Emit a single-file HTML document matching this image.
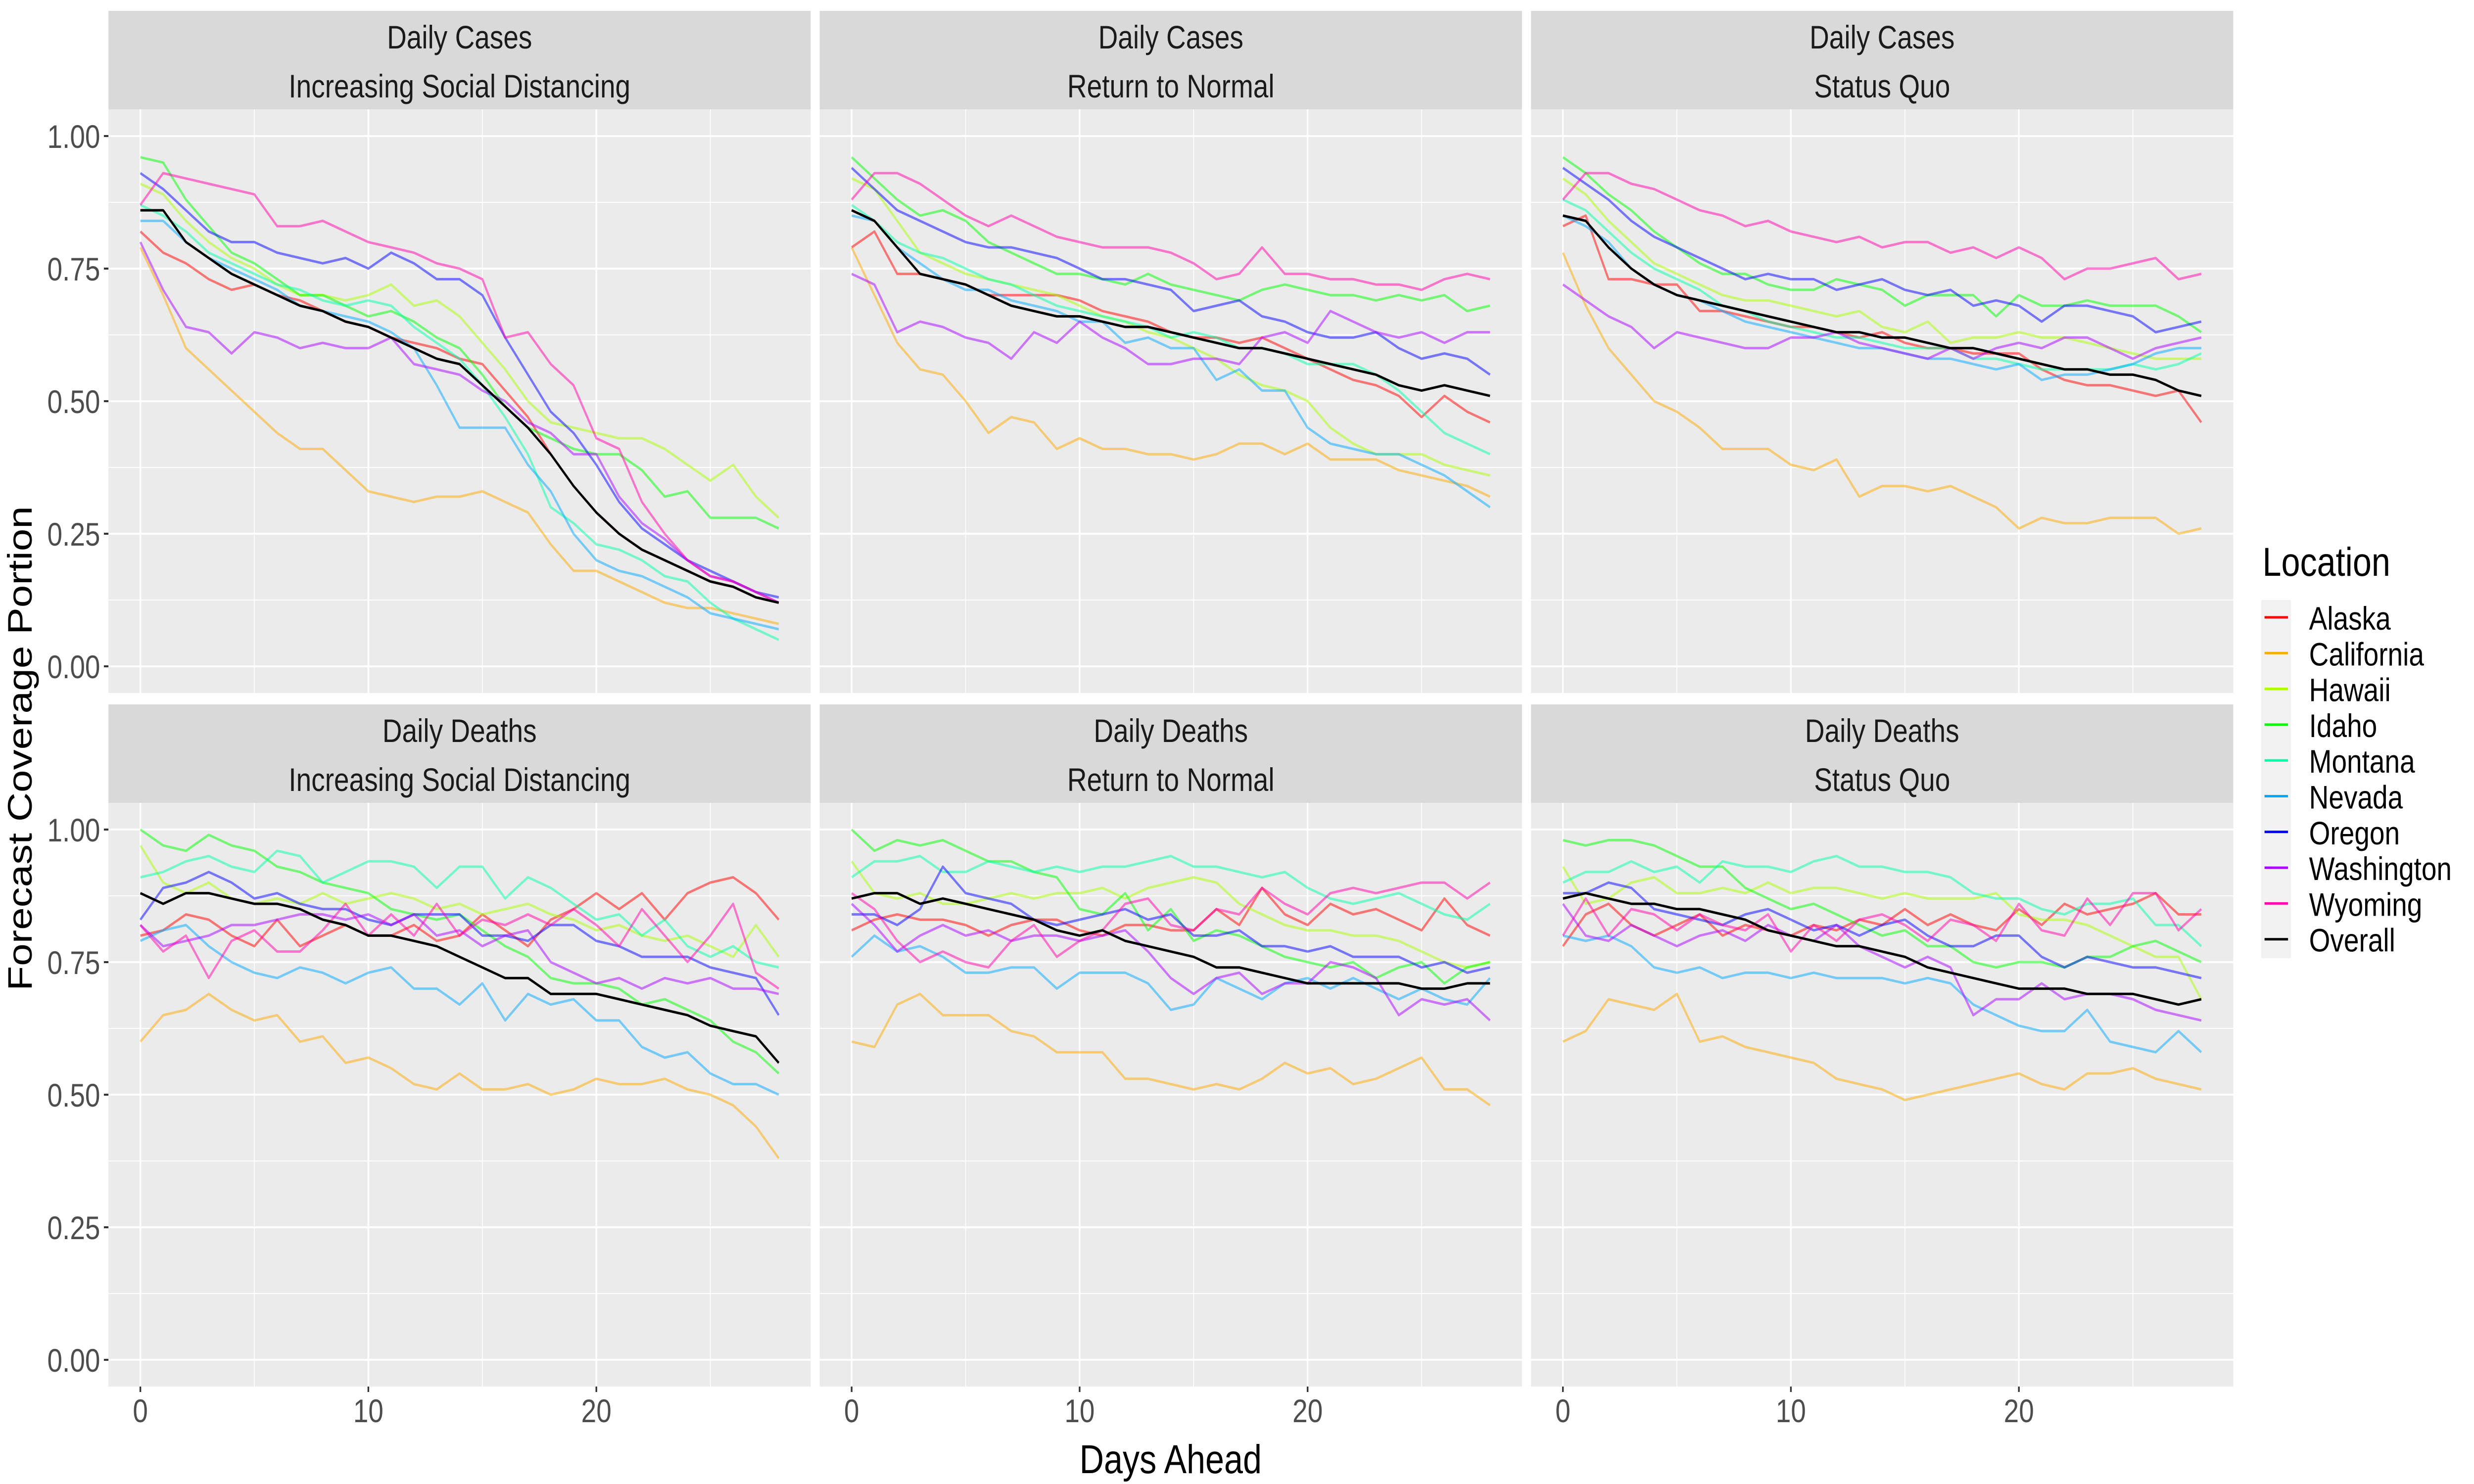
<!DOCTYPE html>
<html><head><meta charset="utf-8"><style>
html,body{margin:0;padding:0;background:#fff;width:100%;height:100%;overflow:hidden;}
svg{display:block;font-family:"Liberation Sans",sans-serif;width:100vw;height:100vh;}
</style></head><body>
<svg id="chart" xmlns="http://www.w3.org/2000/svg" viewBox="0 0 6000 3000" preserveAspectRatio="none">
<rect width="6000" height="3000" fill="#fff"/>
<g id="panels"></g>
<text x="0" y="0" transform="translate(77,1513) rotate(-90)" text-anchor="middle" font-size="82" fill="#000">Forecast Coverage Portion</text>
<text x="2839" y="2978" text-anchor="middle" font-size="82" fill="#000">Days Ahead</text>
<g id="legend">
<text x="5487" y="1164" font-size="82" fill="#000">Location</text>
<rect x="5484" y="1213" width="72" height="724" fill="#F2F2F2"/>
</g>
</svg>
<script>
const days = [0,1,2,3,4,5,6,7,8,9,10,11,12,13,14,15,16,17,18,19,20,21,22,23,24,25,26,27,28];
const locations = ["Alaska","California","Hawaii","Idaho","Montana","Nevada","Oregon","Washington","Wyoming","Overall"];
const colors = ["#FF0000","#FFAA00","#AAFF00","#00FF00","#00FFAA","#00AAFF","#0000FF","#AA00FF","#FF00AA","#000000"];
const yTicks = [0,0.25,0.5,0.75,1];
const yTickLabels = ["0.00","0.25","0.50","0.75","1.00"];
const xTicks = [0,10,20];
const xTickLabels = ["0","10","20"];
const stripTop = ["Daily Cases","Daily Cases","Daily Cases","Daily Deaths","Daily Deaths","Daily Deaths"];
const stripBottom = ["Increasing Social Distancing","Return to Normal","Status Quo","Increasing Social Distancing","Return to Normal","Status Quo"];

const casesISD = [
[0.82,0.78,0.76,0.73,0.71,0.72,0.70,0.69,0.67,0.65,0.64,0.62,0.61,0.60,0.58,0.57,0.52,0.47,0.40,0.34,0.29,0.25,0.22,0.20,0.18,0.16,0.15,0.13,0.12],
[0.79,0.70,0.60,0.56,0.52,0.48,0.44,0.41,0.41,0.37,0.33,0.32,0.31,0.32,0.32,0.33,0.31,0.29,0.23,0.18,0.18,0.16,0.14,0.12,0.11,0.11,0.10,0.09,0.08],
[0.91,0.89,0.84,0.80,0.77,0.75,0.72,0.70,0.70,0.69,0.70,0.72,0.68,0.69,0.66,0.61,0.56,0.50,0.46,0.45,0.44,0.43,0.43,0.41,0.38,0.35,0.38,0.32,0.28],
[0.96,0.95,0.88,0.83,0.78,0.76,0.73,0.70,0.70,0.68,0.66,0.67,0.65,0.62,0.60,0.55,0.49,0.45,0.43,0.41,0.40,0.40,0.37,0.32,0.33,0.28,0.28,0.28,0.26],
[0.87,0.85,0.82,0.78,0.76,0.74,0.72,0.71,0.69,0.68,0.69,0.68,0.64,0.61,0.58,0.53,0.47,0.40,0.30,0.27,0.23,0.22,0.20,0.17,0.16,0.12,0.09,0.07,0.05],
[0.84,0.84,0.80,0.77,0.75,0.73,0.71,0.68,0.67,0.66,0.65,0.63,0.60,0.53,0.45,0.45,0.45,0.38,0.33,0.25,0.20,0.18,0.17,0.15,0.13,0.10,0.09,0.08,0.07],
[0.93,0.90,0.86,0.82,0.80,0.80,0.78,0.77,0.76,0.77,0.75,0.78,0.76,0.73,0.73,0.70,0.62,0.55,0.48,0.44,0.38,0.31,0.26,0.23,0.20,0.18,0.16,0.14,0.13],
[0.80,0.71,0.64,0.63,0.59,0.63,0.62,0.60,0.61,0.60,0.60,0.62,0.57,0.56,0.55,0.52,0.50,0.46,0.44,0.40,0.40,0.32,0.27,0.24,0.20,0.17,0.16,0.14,0.12],
[0.87,0.93,0.92,0.91,0.90,0.89,0.83,0.83,0.84,0.82,0.80,0.79,0.78,0.76,0.75,0.73,0.62,0.63,0.57,0.53,0.43,0.41,0.31,0.25,0.20,0.17,0.16,0.14,0.12],
[0.86,0.86,0.80,0.77,0.74,0.72,0.70,0.68,0.67,0.65,0.64,0.62,0.60,0.58,0.57,0.53,0.49,0.45,0.40,0.34,0.29,0.25,0.22,0.20,0.18,0.16,0.15,0.13,0.12]];
const casesRTN = [
[0.79,0.82,0.74,0.74,0.73,0.72,0.70,0.70,0.70,0.70,0.69,0.67,0.66,0.65,0.63,0.62,0.62,0.61,0.62,0.60,0.58,0.56,0.54,0.53,0.51,0.47,0.51,0.48,0.46],
[0.79,0.70,0.61,0.56,0.55,0.50,0.44,0.47,0.46,0.41,0.43,0.41,0.41,0.40,0.40,0.39,0.40,0.42,0.42,0.40,0.42,0.39,0.39,0.39,0.37,0.36,0.35,0.34,0.32],
[0.92,0.90,0.84,0.78,0.76,0.74,0.73,0.72,0.71,0.70,0.68,0.66,0.65,0.63,0.62,0.60,0.58,0.55,0.53,0.52,0.50,0.45,0.42,0.40,0.40,0.40,0.38,0.37,0.36],
[0.96,0.92,0.88,0.85,0.86,0.84,0.80,0.78,0.76,0.74,0.74,0.73,0.72,0.74,0.72,0.71,0.70,0.69,0.71,0.72,0.71,0.70,0.70,0.69,0.70,0.69,0.70,0.67,0.68],
[0.87,0.84,0.80,0.78,0.77,0.75,0.73,0.72,0.70,0.68,0.67,0.66,0.65,0.64,0.62,0.63,0.62,0.60,0.60,0.59,0.57,0.57,0.57,0.55,0.52,0.48,0.44,0.42,0.40],
[0.85,0.84,0.79,0.76,0.73,0.71,0.71,0.69,0.68,0.67,0.65,0.65,0.61,0.62,0.60,0.60,0.54,0.56,0.52,0.52,0.45,0.42,0.41,0.40,0.40,0.38,0.36,0.33,0.30],
[0.94,0.90,0.86,0.84,0.82,0.80,0.79,0.79,0.78,0.77,0.75,0.73,0.73,0.72,0.71,0.67,0.68,0.69,0.66,0.65,0.63,0.62,0.62,0.63,0.60,0.58,0.59,0.58,0.55],
[0.74,0.72,0.63,0.65,0.64,0.62,0.61,0.58,0.63,0.61,0.65,0.62,0.60,0.57,0.57,0.58,0.58,0.57,0.62,0.63,0.61,0.67,0.65,0.63,0.62,0.63,0.61,0.63,0.63],
[0.88,0.93,0.93,0.91,0.88,0.85,0.83,0.85,0.83,0.81,0.80,0.79,0.79,0.79,0.78,0.76,0.73,0.74,0.79,0.74,0.74,0.73,0.73,0.72,0.72,0.71,0.73,0.74,0.73],
[0.86,0.84,0.79,0.74,0.73,0.72,0.70,0.68,0.67,0.66,0.66,0.65,0.64,0.64,0.63,0.62,0.61,0.60,0.60,0.59,0.58,0.57,0.56,0.55,0.53,0.52,0.53,0.52,0.51]];
const casesSQ = [
[0.83,0.85,0.73,0.73,0.72,0.72,0.67,0.67,0.66,0.65,0.64,0.64,0.63,0.62,0.63,0.61,0.60,0.60,0.59,0.59,0.59,0.56,0.54,0.53,0.53,0.52,0.51,0.52,0.46],
[0.78,0.68,0.60,0.55,0.50,0.48,0.45,0.41,0.41,0.41,0.38,0.37,0.39,0.32,0.34,0.34,0.33,0.34,0.32,0.30,0.26,0.28,0.27,0.27,0.28,0.28,0.28,0.25,0.26],
[0.92,0.89,0.84,0.80,0.76,0.74,0.72,0.70,0.69,0.69,0.68,0.67,0.66,0.67,0.64,0.63,0.65,0.61,0.62,0.62,0.63,0.62,0.62,0.61,0.60,0.59,0.58,0.58,0.58],
[0.96,0.93,0.89,0.86,0.82,0.79,0.76,0.74,0.74,0.72,0.71,0.71,0.73,0.72,0.71,0.68,0.70,0.70,0.70,0.66,0.70,0.68,0.68,0.69,0.68,0.68,0.68,0.66,0.63],
[0.88,0.86,0.82,0.78,0.75,0.73,0.71,0.68,0.67,0.65,0.64,0.63,0.62,0.62,0.61,0.60,0.60,0.60,0.58,0.58,0.57,0.56,0.56,0.56,0.56,0.57,0.56,0.57,0.59],
[0.85,0.83,0.80,0.75,0.72,0.70,0.69,0.67,0.65,0.64,0.63,0.62,0.61,0.60,0.60,0.59,0.58,0.58,0.57,0.56,0.57,0.54,0.55,0.55,0.56,0.57,0.59,0.60,0.60],
[0.94,0.91,0.88,0.84,0.81,0.79,0.77,0.75,0.73,0.74,0.73,0.73,0.71,0.72,0.73,0.71,0.70,0.71,0.68,0.69,0.68,0.65,0.68,0.68,0.67,0.66,0.63,0.64,0.65],
[0.72,0.69,0.66,0.64,0.60,0.63,0.62,0.61,0.60,0.60,0.62,0.62,0.63,0.61,0.60,0.59,0.58,0.60,0.58,0.60,0.61,0.60,0.62,0.62,0.60,0.58,0.60,0.61,0.62],
[0.88,0.93,0.93,0.91,0.90,0.88,0.86,0.85,0.83,0.84,0.82,0.81,0.80,0.81,0.79,0.80,0.80,0.78,0.79,0.77,0.79,0.77,0.73,0.75,0.75,0.76,0.77,0.73,0.74],
[0.85,0.84,0.79,0.75,0.72,0.70,0.69,0.68,0.67,0.66,0.65,0.64,0.63,0.63,0.62,0.62,0.61,0.60,0.60,0.59,0.58,0.57,0.56,0.56,0.55,0.55,0.54,0.52,0.51]];
const deathsISD = [
[0.80,0.81,0.84,0.83,0.80,0.78,0.83,0.78,0.80,0.82,0.80,0.80,0.82,0.79,0.80,0.84,0.81,0.78,0.83,0.85,0.88,0.85,0.88,0.83,0.88,0.90,0.91,0.88,0.83],
[0.60,0.65,0.66,0.69,0.66,0.64,0.65,0.60,0.61,0.56,0.57,0.55,0.52,0.51,0.54,0.51,0.51,0.52,0.50,0.51,0.53,0.52,0.52,0.53,0.51,0.50,0.48,0.44,0.38],
[0.97,0.90,0.88,0.90,0.87,0.86,0.87,0.86,0.88,0.86,0.87,0.88,0.87,0.85,0.86,0.84,0.85,0.86,0.84,0.83,0.81,0.82,0.80,0.79,0.80,0.78,0.76,0.82,0.76],
[1.00,0.97,0.96,0.99,0.97,0.96,0.93,0.92,0.90,0.89,0.88,0.85,0.84,0.83,0.84,0.81,0.78,0.76,0.72,0.71,0.71,0.70,0.67,0.68,0.66,0.64,0.60,0.58,0.54],
[0.91,0.92,0.94,0.95,0.93,0.92,0.96,0.95,0.90,0.92,0.94,0.94,0.93,0.89,0.93,0.93,0.87,0.91,0.89,0.86,0.83,0.84,0.80,0.83,0.78,0.76,0.78,0.75,0.74],
[0.79,0.81,0.82,0.78,0.75,0.73,0.72,0.74,0.73,0.71,0.73,0.74,0.70,0.70,0.67,0.71,0.64,0.69,0.67,0.68,0.64,0.64,0.59,0.57,0.58,0.54,0.52,0.52,0.50],
[0.83,0.89,0.90,0.92,0.90,0.87,0.88,0.86,0.85,0.85,0.83,0.82,0.84,0.84,0.84,0.80,0.80,0.79,0.82,0.82,0.79,0.78,0.76,0.76,0.76,0.74,0.73,0.72,0.65],
[0.82,0.78,0.79,0.80,0.82,0.82,0.83,0.84,0.84,0.83,0.84,0.82,0.84,0.80,0.81,0.78,0.80,0.81,0.75,0.73,0.71,0.72,0.70,0.72,0.71,0.72,0.70,0.70,0.69],
[0.82,0.77,0.80,0.72,0.79,0.81,0.77,0.77,0.81,0.86,0.80,0.84,0.80,0.86,0.80,0.83,0.82,0.84,0.82,0.85,0.82,0.78,0.85,0.80,0.75,0.80,0.86,0.73,0.70],
[0.88,0.86,0.88,0.88,0.87,0.86,0.86,0.85,0.83,0.82,0.80,0.80,0.79,0.78,0.76,0.74,0.72,0.72,0.69,0.69,0.69,0.68,0.67,0.66,0.65,0.63,0.62,0.61,0.56]];
const deathsRTN = [
[0.81,0.83,0.84,0.83,0.83,0.82,0.80,0.82,0.83,0.83,0.81,0.80,0.82,0.82,0.81,0.81,0.85,0.82,0.89,0.84,0.82,0.86,0.84,0.85,0.83,0.81,0.87,0.82,0.80],
[0.60,0.59,0.67,0.69,0.65,0.65,0.65,0.62,0.61,0.58,0.58,0.58,0.53,0.53,0.52,0.51,0.52,0.51,0.53,0.56,0.54,0.55,0.52,0.53,0.55,0.57,0.51,0.51,0.48],
[0.94,0.88,0.87,0.88,0.86,0.86,0.87,0.88,0.87,0.88,0.88,0.89,0.87,0.89,0.90,0.91,0.90,0.86,0.84,0.82,0.81,0.81,0.80,0.80,0.79,0.77,0.75,0.74,0.75],
[1.00,0.96,0.98,0.97,0.98,0.96,0.94,0.94,0.92,0.91,0.85,0.84,0.88,0.81,0.85,0.79,0.81,0.80,0.78,0.76,0.75,0.74,0.75,0.72,0.74,0.75,0.71,0.74,0.75],
[0.91,0.94,0.94,0.95,0.92,0.92,0.94,0.93,0.92,0.93,0.92,0.93,0.93,0.94,0.95,0.93,0.93,0.92,0.91,0.92,0.89,0.87,0.86,0.87,0.88,0.86,0.84,0.83,0.86],
[0.76,0.80,0.77,0.78,0.76,0.73,0.73,0.74,0.74,0.70,0.73,0.73,0.73,0.71,0.66,0.67,0.72,0.70,0.68,0.71,0.72,0.70,0.72,0.70,0.68,0.70,0.68,0.67,0.72],
[0.84,0.84,0.82,0.85,0.93,0.88,0.87,0.86,0.83,0.82,0.83,0.84,0.85,0.83,0.84,0.80,0.80,0.81,0.78,0.78,0.77,0.78,0.76,0.76,0.76,0.74,0.75,0.73,0.74],
[0.86,0.82,0.77,0.80,0.82,0.80,0.81,0.79,0.80,0.80,0.79,0.80,0.81,0.77,0.72,0.69,0.72,0.73,0.69,0.71,0.71,0.75,0.74,0.72,0.65,0.68,0.67,0.68,0.64],
[0.88,0.85,0.79,0.75,0.77,0.75,0.74,0.79,0.82,0.76,0.79,0.81,0.86,0.87,0.82,0.81,0.85,0.84,0.89,0.86,0.84,0.88,0.89,0.88,0.89,0.90,0.90,0.87,0.90],
[0.87,0.88,0.88,0.86,0.87,0.86,0.85,0.84,0.83,0.81,0.80,0.81,0.79,0.78,0.77,0.76,0.74,0.74,0.73,0.72,0.71,0.71,0.71,0.71,0.71,0.70,0.70,0.71,0.71]];
const deathsSQ = [
[0.78,0.84,0.86,0.82,0.80,0.82,0.84,0.80,0.82,0.81,0.80,0.82,0.81,0.83,0.82,0.85,0.82,0.84,0.82,0.81,0.85,0.82,0.86,0.84,0.85,0.86,0.88,0.84,0.84],
[0.60,0.62,0.68,0.67,0.66,0.69,0.60,0.61,0.59,0.58,0.57,0.56,0.53,0.52,0.51,0.49,0.50,0.51,0.52,0.53,0.54,0.52,0.51,0.54,0.54,0.55,0.53,0.52,0.51],
[0.93,0.86,0.87,0.90,0.91,0.88,0.88,0.89,0.88,0.90,0.88,0.89,0.89,0.88,0.87,0.88,0.87,0.87,0.87,0.88,0.84,0.83,0.83,0.82,0.80,0.78,0.76,0.76,0.68],
[0.98,0.97,0.98,0.98,0.97,0.95,0.93,0.93,0.89,0.87,0.85,0.86,0.84,0.82,0.80,0.81,0.78,0.78,0.75,0.74,0.75,0.75,0.74,0.76,0.76,0.78,0.79,0.77,0.75],
[0.90,0.92,0.92,0.94,0.92,0.93,0.90,0.94,0.93,0.93,0.92,0.94,0.95,0.93,0.93,0.92,0.92,0.91,0.88,0.87,0.87,0.85,0.84,0.86,0.86,0.87,0.82,0.82,0.78],
[0.80,0.79,0.80,0.78,0.74,0.73,0.74,0.72,0.73,0.73,0.72,0.73,0.72,0.72,0.72,0.71,0.72,0.71,0.67,0.65,0.63,0.62,0.62,0.66,0.60,0.59,0.58,0.62,0.58],
[0.88,0.88,0.90,0.89,0.85,0.84,0.83,0.82,0.84,0.85,0.83,0.81,0.82,0.80,0.82,0.83,0.80,0.78,0.78,0.80,0.80,0.76,0.74,0.76,0.75,0.74,0.74,0.73,0.72],
[0.86,0.80,0.79,0.82,0.80,0.78,0.80,0.81,0.79,0.82,0.80,0.79,0.82,0.78,0.76,0.74,0.76,0.74,0.65,0.68,0.68,0.71,0.68,0.69,0.69,0.68,0.66,0.65,0.64],
[0.80,0.87,0.80,0.85,0.84,0.81,0.84,0.82,0.81,0.84,0.77,0.82,0.79,0.83,0.84,0.82,0.79,0.83,0.82,0.79,0.86,0.81,0.80,0.87,0.82,0.88,0.88,0.81,0.85],
[0.87,0.88,0.87,0.86,0.86,0.85,0.85,0.84,0.83,0.81,0.80,0.79,0.78,0.78,0.77,0.76,0.74,0.73,0.72,0.71,0.70,0.70,0.70,0.69,0.69,0.69,0.68,0.67,0.68]];
const panelData = [casesISD, casesRTN, casesSQ, deathsISD, deathsRTN, deathsSQ];

const NS = "http://www.w3.org/2000/svg";
const panelW = 1703, gapX = 22, left0 = 263;
const stripH = 199;
const rowTop = [22, 1424];
const plotH = 1180;
const xMin = -1.4, xMax = 29.4;
function mk(tag, attrs, parent){const e=document.createElementNS(NS,tag);for(const k in attrs)e.setAttribute(k,attrs[k]);parent.appendChild(e);return e;}
function xScale(p, d){const L=left0+(p%3)*(panelW+gapX);return L+(d-xMin)/(xMax-xMin)*panelW;}
function yScale(p, v){const r=Math.floor(p/3);const y1=rowTop[r]+253, y0=rowTop[r]+1325;return y0-(y0-y1)*v;}
const root=document.getElementById('panels');
for(let p=0;p<6;p++){
  const col=p%3,row=Math.floor(p/3);
  const L=left0+col*(panelW+gapX), T=rowTop[row];
  const g=mk('g',{},root);
  
  
  const strip=mk('rect',{x:L,y:T,width:panelW,height:stripH,fill:'#D9D9D9'},g);
  
  
  const t1=mk('text',{x:L+panelW/2,y:T+76,'text-anchor':'middle','font-size':66,fill:'#1A1A1A'},g);
  t1.textContent=stripTop[p];
  
  
  const t2=mk('text',{x:L+panelW/2,y:T+175,'text-anchor':'middle','font-size':66,fill:'#1A1A1A'},g);
  t2.textContent=stripBottom[p];
  
  
  const PT=T+stripH;
  const bg=mk('rect',{x:L,y:PT,width:panelW,height:plotH,fill:'#EBEBEB'},g);
  
  
  for(let v=0.125;v<1;v+=0.25){mk('line',{x1:L,x2:L+panelW,y1:yScale(p,v),y2:yScale(p,v),stroke:'#fff','stroke-width':2},g);}
  for(let d=5;d<29;d+=10){mk('line',{x1:xScale(p,d),x2:xScale(p,d),y1:PT,y2:PT+plotH,stroke:'#fff','stroke-width':2},g);}
  yTicks.forEach(v=>{mk('line',{x1:L,x2:L+panelW,y1:yScale(p,v),y2:yScale(p,v),stroke:'#fff','stroke-width':4},g);});
  xTicks.forEach(d=>{mk('line',{x1:xScale(p,d),x2:xScale(p,d),y1:PT,y2:PT+plotH,stroke:'#fff','stroke-width':4},g);});
  const series=panelData[p];
  series.forEach((vals,i)=>{
    const pts=days.map((d,k)=>xScale(p,d).toFixed(1)+','+yScale(p,vals[k]).toFixed(1)).join(' ');
    const pl=mk('polyline',{points:pts,fill:'none',stroke:colors[i],'stroke-width':5,'stroke-opacity':i===9?1:0.5,'stroke-linejoin':'round'},g);
    
    
  });
  if(col===0){
    yTicks.forEach((v,k)=>{
      mk('line',{x1:L-11,x2:L,y1:yScale(p,v),y2:yScale(p,v),stroke:'#333','stroke-width':4},g);
      const tl=mk('text',{x:L-20,y:yScale(p,v)+24,'text-anchor':'end','font-size':66,fill:'#4D4D4D'},g);
      tl.textContent=yTickLabels[k];
      
      
    });
  }
  if(row===1){
    xTicks.forEach((d,k)=>{
      mk('line',{x1:xScale(p,d),x2:xScale(p,d),y1:PT+plotH,y2:PT+plotH+11,stroke:'#333','stroke-width':4},g);
      const tl=mk('text',{x:xScale(p,d),y:PT+plotH+72,'text-anchor':'middle','font-size':66,fill:'#4D4D4D'},g);
      tl.textContent=xTickLabels[k];
      
      
    });
  }
}
const lg=document.getElementById('legend');
locations.forEach((name,i)=>{
  const y=1248+i*72.3;
  const ln=mk('line',{x1:5492,x2:5549,y1:y,y2:y,stroke:colors[i],'stroke-width':5},lg);
  
  
  const tx=mk('text',{x:5600,y:y+25,'font-size':66,fill:'#000'},lg);
  tx.textContent=name;
  
  
});
</script>
</body></html>
